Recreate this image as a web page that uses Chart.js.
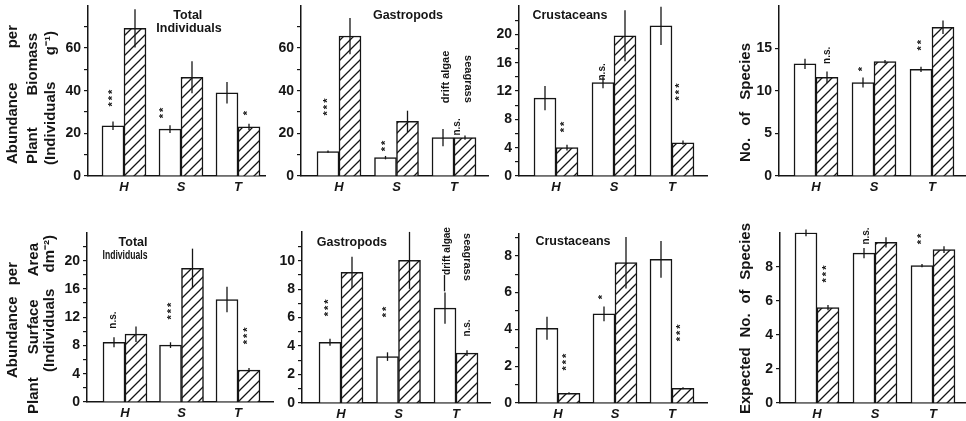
<!DOCTYPE html>
<html><head><meta charset="utf-8">
<script src="https://cdn.jsdelivr.net/npm/chart.js@4.4.1/dist/chart.umd.min.js"></script>
<style>
html,body{margin:0;padding:0;background:#fff;}
#wrap{position:relative;width:966px;height:421px;overflow:hidden;background:#fff;}
canvas{position:absolute;left:0;top:0;}
</style>
</head><body><div id="wrap"></div>
<script>
// ---------------- DATA ----------------
const categories = ['H', 'S', 'T'];
const seriesNames = ['drift algae', 'seagrass'];

// Row 1: abundance per plant biomass (individuals g-1)
const bioTotalAlgae = [23.5, 22, 39];
const bioTotalAlgaeErr = [2, 1.8, 5];
const bioTotalGrass = [69.2, 46.3, 23];
const bioTotalGrassErr = [9, 7.5, 1.5];
const bioTotalSig = ['***', '**', '*'];

const bioGastAlgae = [11.4, 8.6, 18];
const bioGastAlgaeErr = [0.5, 0.8, 4];
const bioGastGrass = [65.6, 25.6, 18];
const bioGastGrassErr = [8.5, 5, 1];
const bioGastSig = ['***', '**', 'n.s.'];

const bioCrusAlgae = [11.0, 13.2, 21.2];
const bioCrusAlgaeErr = [1.7, 0.8, 2.7];
const bioCrusGrass = [4.0, 19.8, 4.7];
const bioCrusGrassErr = [0.4, 3.6, 0.3];
const bioCrusSig = ['**', 'n.s.', '***'];

const sppAlgae = [13.2, 11.0, 12.55];
const sppAlgaeErr = [0.6, 0.6, 0.3];
const sppGrass = [11.6, 13.45, 17.5];
const sppGrassErr = [0.7, 0.2, 0.8];
const sppSig = ['n.s.', '*', '**'];

// Row 2: abundance per plant surface area (individuals dm-2)
const areaTotalAlgae = [8.45, 8.05, 14.5];
const areaTotalAlgaeErr = [0.7, 0.4, 1.8];
const areaTotalGrass = [9.6, 18.9, 4.5];
const areaTotalGrassErr = [1.1, 2.8, 0.3];
const areaTotalSig = ['n.s.', '***', '***'];

const areaGastAlgae = [4.27, 3.26, 6.67];
const areaGastAlgaeErr = [0.25, 0.3, 1.1];
const areaGastGrass = [9.18, 10.02, 3.5];
const areaGastGrassErr = [1.1, 2.0, 0.2];
const areaGastSig = ['***', '**', 'n.s.'];

const areaCrusAlgae = [4.06, 4.84, 7.8];
const areaCrusAlgaeErr = [0.63, 0.4, 1.0];
const areaCrusGrass = [0.53, 7.62, 0.8];
const areaCrusGrassErr = [0.05, 1.4, 0.05];
const areaCrusSig = ['***', '*', '***'];

const expAlgae = [9.98, 8.8, 8.06];
const expAlgaeErr = [0.2, 0.3, 0.1];
const expGrass = [5.6, 9.43, 9.0];
const expGrassErr = [0.15, 0.3, 0.2];
const expSig = ['***', 'n.s.', '**'];

// tick values
const ticks80 = [0, 10, 20, 30, 40, 50, 60, 70];
const labels80 = [0, 20, 40, 60];
const ticks24 = [0, 2, 4, 6, 8, 10, 12, 14, 16, 18, 20, 22];
const labels24 = [0, 4, 8, 12, 16, 20];
const ticks20 = [0, 5, 10, 15];
const ticks12 = [0, 1, 2, 3, 4, 5, 6, 7, 8, 9, 10, 11];
const labels12 = [0, 2, 4, 6, 8, 10];
const ticks9 = [0, 1, 2, 3, 4, 5, 6, 7, 8, 9];
const labels9 = [0, 2, 4, 6, 8];
const ticks10 = [0, 2, 4, 6, 8];

// text
const titleTotal = ['Total', 'Individuals'];
const titleGast = 'Gastropods';
const titleCrus = 'Crustaceans';
const yTitleBio = ['Abundance per', 'Plant Biomass', '(Individuals g\u207B\u00B9)'];
const yTitleArea = ['Abundance per', 'Plant Surface Area', '(Individuals dm\u207B\u00B2)'];
const yTitleSpp = 'No. of Species';
const yTitleExp = 'Expected No. of Species';

// ---------------- STYLE / LAYOUT ----------------
const INK = '#151515';
const FONT = '"Liberation Sans", Arial, Helvetica, sans-serif';
const W = 966, H = 421, YW = 40, XH = 30;

function makeHatch() {
  const s = 10;
  const c = document.createElement('canvas');
  c.width = s; c.height = s;
  const g = c.getContext('2d');
  g.fillStyle = '#fff'; g.fillRect(0, 0, s, s);
  g.strokeStyle = INK; g.lineWidth = 1.3;
  g.beginPath();
  g.moveTo(-2, s + 2); g.lineTo(s + 2, -2);
  g.moveTo(-2, 2); g.lineTo(2, -2);
  g.moveTo(s - 2, s + 2); g.lineTo(s + 2, s - 2);
  g.stroke();
  return g.createPattern(c, 'repeat');
}

const panels = [
  { algae: bioTotalAlgae, algaeErr: bioTotalAlgaeErr, grass: bioTotalGrass, grassErr: bioTotalGrassErr,
    yMax: 80, ticks: ticks80, tickLabels: labels80,
    box: { axisX: 88, endX: 265, cH: 124, sp: 57, top: 5.3, base: 176 },
    sig: [{ t: bioTotalSig[0], x: 0.807, y: 37 }, { t: bioTotalSig[1], x: 1.70, y: 30 }, { t: bioTotalSig[2], x: 3.175, y: 30 }],
    titles: [{ t: titleTotal[0], x: 2.12, y: 75 }, { t: titleTotal[1], x: 2.14, y: 68.9 }],
    yTitle: { lines: yTitleBio, pos: [[13, 164, 25], [33, 164, 33], [51, 165, 31]] } },
  { algae: bioGastAlgae, algaeErr: bioGastAlgaeErr, grass: bioGastGrass, grassErr: bioGastGrassErr,
    yMax: 80, ticks: ticks80, tickLabels: labels80,
    box: { axisX: 301, endX: 488, cH: 339, sp: 57.5, top: 5.3, base: 176 },
    sig: [{ t: bioGastSig[0], x: 0.809, y: 32.8 }, { t: bioGastSig[1], x: 1.817, y: 14.5 }, { t: bioGastSig[2], x: 3.052, y: 23 },
          { t: seriesNames[0], x: 2.861, y: 46.4, plain: true, size: 11 }, { t: seriesNames[1], x: 3.243, y: 45.5, plain: true, size: 11, rot: 90 }],
    titles: [{ t: titleGast, x: 2.2, y: 75 }] },
  { algae: bioCrusAlgae, algaeErr: bioCrusAlgaeErr, grass: bioCrusGrass, grassErr: bioCrusGrassErr,
    yMax: 24, ticks: ticks24, tickLabels: labels24,
    box: { axisX: 519, endX: 707, cH: 556, sp: 58, top: 6, base: 176 },
    sig: [{ t: bioCrusSig[0], x: 1.155, y: 7.06 }, { t: bioCrusSig[1], x: 1.793, y: 14.7 }, { t: bioCrusSig[2], x: 3.138, y: 12.0 }],
    titles: [{ t: titleCrus, x: 1.24, y: 22.6 }] },
  { algae: sppAlgae, algaeErr: sppAlgaeErr, grass: sppGrass, grassErr: sppGrassErr,
    yMax: 20, ticks: ticks20, tickLabels: ticks20,
    box: { axisX: 779, endX: 966, cH: 816, sp: 58, top: 6, base: 176 },
    sig: [{ t: sppSig[0], x: 1.19, y: 14.2 }, { t: sppSig[1], x: 1.81, y: 12.7 }, { t: sppSig[2], x: 2.828, y: 15.5 }],
    titles: [],
    yTitle: { lines: [yTitleSpp], pos: [[746, 162, 43]] } },
  { algae: areaTotalAlgae, algaeErr: areaTotalAlgaeErr, grass: areaTotalGrass, grassErr: areaTotalGrassErr,
    yMax: 24, ticks: ticks24, tickLabels: labels24,
    box: { axisX: 87, endX: 273, cH: 125, sp: 56.5, top: 232.4, base: 402 },
    sig: [{ t: areaTotalSig[0], x: 0.788, y: 11.6 }, { t: areaTotalSig[1], x: 1.832, y: 13.0 }, { t: areaTotalSig[2], x: 3.177, y: 9.5 }],
    titles: [{ t: titleTotal[0], x: 1.142, y: 22.6 }, { t: titleTotal[1], x: 1.0, y: 20.7, maxW: 45 }],
    yTitle: { lines: yTitleArea, pos: [[13, 378, 262], [34, 414, 243], [50, 372, 235]] } },
  { algae: areaGastAlgae, algaeErr: areaGastAlgaeErr, grass: areaGastGrass, grassErr: areaGastGrassErr,
    yMax: 12, ticks: ticks12, tickLabels: labels12,
    box: { axisX: 302, endX: 490, cH: 341, sp: 57.5, top: 232.2, base: 403 },
    sig: [{ t: areaGastSig[0], x: 0.791, y: 6.75 }, { t: areaGastSig[1], x: 1.8, y: 6.47 }, { t: areaGastSig[2], x: 3.19, y: 5.27 },
          { t: seriesNames[0], x: 2.843, y: 10.68, plain: true, size: 10 }, { t: seriesNames[1], x: 3.19, y: 10.26, plain: true, size: 11, rot: 90 }],
    leader: { x: 2.8, y0: 7.85, y1: 9.0 },
    titles: [{ t: titleGast, x: 1.19, y: 11.3 }] },
  { algae: areaCrusAlgae, algaeErr: areaCrusAlgaeErr, grass: areaCrusGrass, grassErr: areaCrusGrassErr,
    yMax: 9.2, ticks: ticks9, tickLabels: labels9,
    box: { axisX: 519, endX: 707, cH: 558, sp: 57, top: 233.6, base: 403 },
    sig: [{ t: areaCrusSig[0], x: 1.158, y: 2.28 }, { t: areaCrusSig[1], x: 1.79, y: 5.81 }, { t: areaCrusSig[2], x: 3.158, y: 3.86 }],
    titles: [{ t: titleCrus, x: 1.263, y: 8.75 }] },
  { algae: expAlgae, algaeErr: expAlgaeErr, grass: expGrass, grassErr: expGrassErr,
    yMax: 10, ticks: ticks10, tickLabels: ticks10,
    box: { axisX: 780, endX: 966, cH: 817, sp: 58, top: 232.6, base: 403 },
    sig: [{ t: expSig[0], x: 1.172, y: 7.63 }, { t: expSig[1], x: 1.845, y: 9.8 }, { t: expSig[2], x: 2.81, y: 9.68 }],
    titles: [],
    yTitle: { lines: [yTitleExp], pos: [[746, 414, 223]] } }
];

// ---------------- DRAW HELPERS ----------------
function drawText(ctx, s, x, y, font, rot, maxW, spacing) {
  ctx.save();
  ctx.translate(x, y);
  if (rot) ctx.rotate(rot * Math.PI / 180);
  ctx.font = font; ctx.fillStyle = INK;
  ctx.textAlign = 'center'; ctx.textBaseline = 'middle';
  if (spacing && ('letterSpacing' in ctx)) ctx.letterSpacing = spacing;
  if (maxW) ctx.fillText(s, 0, 0, maxW); else ctx.fillText(s, 0, 0);
  ctx.restore();
}
function drawJustified(ctx, s, x, yBottom, yTop, font) {
  const words = s.split(' ');
  ctx.save();
  ctx.font = font; ctx.fillStyle = INK;
  ctx.textAlign = 'left'; ctx.textBaseline = 'middle';
  ctx.translate(x, yBottom); ctx.rotate(-Math.PI / 2);
  const ws = words.map(w => ctx.measureText(w).width);
  const total = ws.reduce((a, b) => a + b, 0);
  const L = yBottom - yTop;
  const sp = ctx.measureText(' ').width;
  const gap = words.length > 1 ? Math.max((L - total) / (words.length - 1), sp) : 0;
  let pos = words.length > 1 ? 0 : Math.max(0, (L - total) / 2);
  words.forEach((w, i) => { ctx.fillText(w, pos, 0); pos += ws[i] + gap; });
  ctx.restore();
}

const annotPlugin = {
  id: 'annot',
  afterDatasetsDraw(chart) {
    const p = chart.config.options.plugins.annot.panel;
    const ctx = chart.ctx, xs = chart.scales.x, ys = chart.scales.y;
    ctx.save();
    ctx.strokeStyle = INK; ctx.lineWidth = 1.3;
    [[p.algae, p.algaeErr], [p.grass, p.grassErr]].forEach(([vals, errs], di) => {
      const meta = chart.getDatasetMeta(di);
      meta.data.forEach((bar, i) => {
        const x = bar.x;
        ctx.beginPath();
        ctx.moveTo(x, ys.getPixelForValue(vals[i] + errs[i]));
        ctx.lineTo(x, ys.getPixelForValue(Math.max(0, vals[i] - errs[i])));
        ctx.stroke();
      });
    });
    if (p.leader) {
      const lx = xs.getPixelForValue(p.leader.x);
      ctx.beginPath();
      ctx.moveTo(lx, ys.getPixelForValue(p.leader.y0));
      ctx.lineTo(lx, ys.getPixelForValue(p.leader.y1));
      ctx.stroke();
    }
    ctx.restore();
    p.sig.forEach(a => {
      const px = xs.getPixelForValue(a.x), py = ys.getPixelForValue(a.y);
      if (a.plain) {
        drawText(ctx, a.t, px, py, 'bold ' + a.size + 'px ' + FONT, a.rot || -90);
      } else {
        const star = a.t.indexOf('*') >= 0;
        drawText(ctx, a.t, px, py, 'bold ' + (star ? 11 : 10) + 'px ' + FONT, -90, null, star ? '2px' : null);
      }
    });
    p.titles.forEach(a => {
      drawText(ctx, a.t, xs.getPixelForValue(a.x), ys.getPixelForValue(a.y), 'bold 12.5px ' + FONT, 0, a.maxW);
    });
    if (p.yTitle) {
      p.yTitle.lines.forEach((s, i) => {
        const [x, y0, y1] = p.yTitle.pos[i];
        drawJustified(ctx, s, x, y0, y1, 'bold 15px ' + FONT);
      });
    }
  }
};

// ---------------- BUILD CHARTS ----------------
const wrap = document.getElementById('wrap');
const hatch = makeHatch();

panels.forEach(p => {
  const b = p.box;
  const cv = document.createElement('canvas');
  cv.width = W; cv.height = H;
  cv.style.width = W + 'px'; cv.style.height = H + 'px';
  wrap.appendChild(cv);
  const xMin = 1 - (b.cH - b.axisX) / b.sp;
  const xMax = 1 + (b.endX - b.cH) / b.sp;
  const common = { borderColor: INK, borderWidth: 1.5, barThickness: 22, borderSkipped: 'bottom' };
  new Chart(cv.getContext('2d'), {
    type: 'bar',
    data: {
      datasets: [
        Object.assign({ label: seriesNames[0], data: p.algae.map((v, i) => ({ x: i + 1, y: v })), backgroundColor: '#ffffff' }, common),
        Object.assign({ label: seriesNames[1], data: p.grass.map((v, i) => ({ x: i + 1, y: v })), backgroundColor: hatch }, common)
      ]
    },
    options: {
      responsive: false, animation: false, devicePixelRatio: 1, events: [],
      layout: { padding: { left: b.axisX - YW, right: W - b.endX, top: b.top, bottom: H - b.base - XH } },
      plugins: { legend: { display: false }, tooltip: { enabled: false }, annot: { panel: p } },
      scales: {
        x: {
          type: 'linear', min: xMin, max: xMax, offset: false,
          grid: { display: false, drawOnChartArea: false, drawTicks: false, offset: false },
          border: { display: true, color: INK, width: 1.5 },
          ticks: { padding: 4, color: INK, maxRotation: 0, autoSkip: false,
                   font: { family: FONT, size: 13, weight: 'bold', style: 'italic' },
                   callback: v => categories[v - 1] || '' },
          afterBuildTicks: s => { s.ticks = categories.map((c, i) => ({ value: i + 1 })); },
          afterFit: s => { s.height = XH; s.paddingLeft = 0; s.paddingRight = 0; }
        },
        y: {
          type: 'linear', min: 0, max: p.yMax,
          grid: { display: true, drawOnChartArea: false, drawTicks: true, tickLength: 4, color: INK, lineWidth: 1.2 },
          border: { display: true, color: INK, width: 1.5 },
          ticks: { padding: 3, color: INK, autoSkip: false,
                   font: { family: FONT, size: 14, weight: 'bold' },
                   callback: v => (p.tickLabels.indexOf(v) >= 0 ? String(v) : '') },
          afterBuildTicks: s => { s.ticks = p.ticks.map(v => ({ value: v })); },
          afterFit: s => { s.width = YW; s.paddingTop = 0; s.paddingBottom = 0; }
        }
      }
    },
    plugins: [annotPlugin]
  });
});
</script>
</body></html>
